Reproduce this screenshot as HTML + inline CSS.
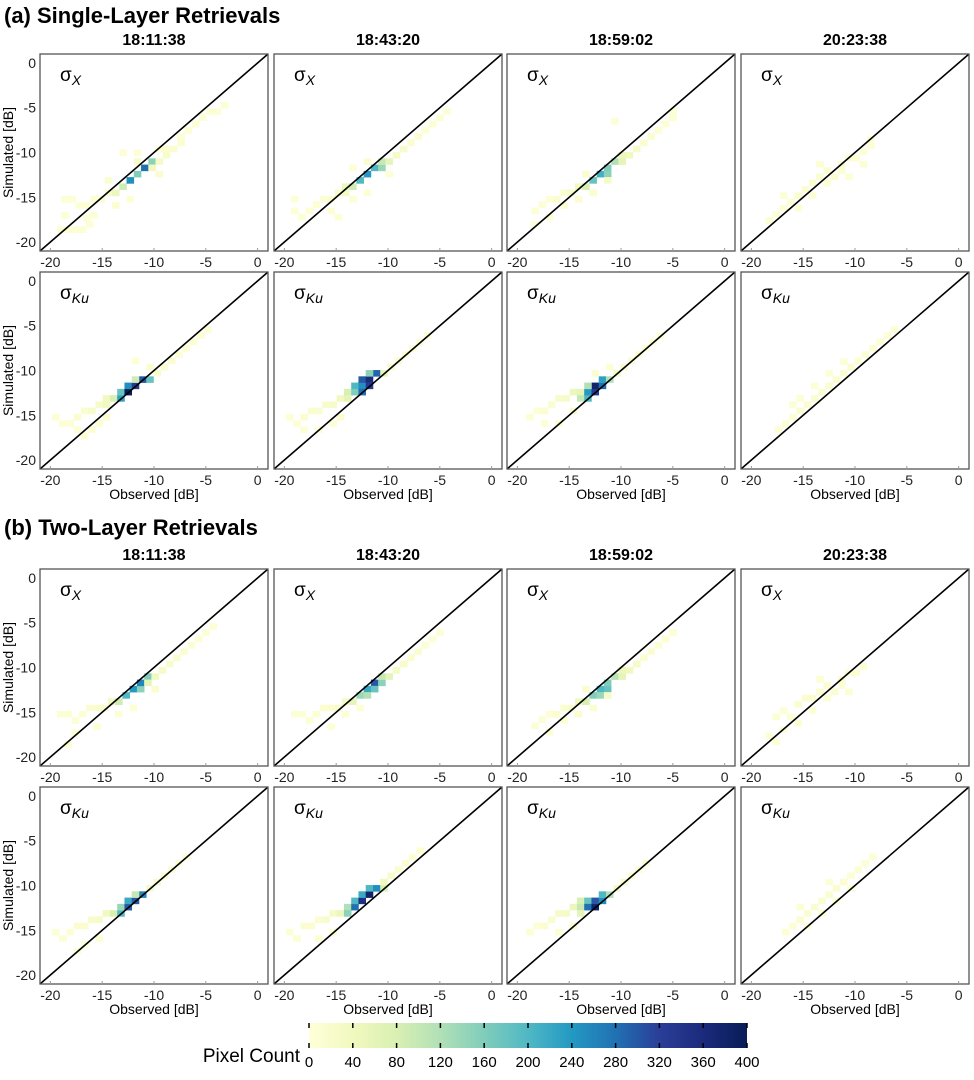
<!DOCTYPE html>
<html><head><meta charset="utf-8">
<style>
body{margin:0;background:#fff;font-family:"Liberation Sans",Arial,sans-serif;}
svg text{font-family:"Liberation Sans",Arial,sans-serif;}
</style></head>
<body>
<svg id="fig" width="974" height="1075" viewBox="0 0 974 1075" xmlns="http://www.w3.org/2000/svg">
<defs>
<linearGradient id="cb" x1="0" x2="1" y1="0" y2="0">
<stop offset="0" stop-color="#ffffd9"/><stop offset="0.1" stop-color="#f1f9bf"/><stop offset="0.2" stop-color="#d9f0b3"/>
<stop offset="0.3" stop-color="#b1e0b6"/><stop offset="0.4" stop-color="#80cdbb"/><stop offset="0.5" stop-color="#4fb8c4"/>
<stop offset="0.6" stop-color="#2399c3"/><stop offset="0.7" stop-color="#2171b2"/><stop offset="0.8" stop-color="#2a3e98"/>
<stop offset="0.9" stop-color="#1b2a7b"/><stop offset="1" stop-color="#081d58"/>
</linearGradient>
</defs>
<text x="4" y="23" font-size="22" font-weight="bold">(a) Single-Layer Retrievals</text>
<text x="4" y="535" font-size="22" font-weight="bold">(b) Two-Layer Retrievals</text>
<g id="panels"></g>
<g>
<text x="300" y="1062" font-size="19" text-anchor="end">Pixel Count</text>
<rect x="309" y="1023" width="438" height="25" fill="url(#cb)"/>
<g id="cbticks"></g>
</g>
</svg>
<script>
const NS="http://www.w3.org/2000/svg";
const times=["18:11:38","18:43:20","18:59:02","20:23:38"];
const axisTicks=[-20,-15,-10,-5,0];
const cbTicks=[0,40,80,120,160,200,240,280,320,360,400];
const colX=[40,274,507,741];
const rowY=[54,272,569,787];
const PW=228, PH=197;
const DMIN=-21, DMAX=1, BIN=0.7;

// cells: [observed dB, simulated dB, count]
const aX1=[[-19,-18.6,8],[-18.3,-18.6,8],[-17.6,-18.6,8],[-16.9,-18.6,8],[-16.2,-18,8],[-18.6,-17,8],[-18.6,-15.2,10],[-17.9,-15.2,10],[-17.2,-15.9,10],[-16.5,-15.9,10],[-15.8,-15.2,10],[-15.1,-15.2,12],[-15.8,-17,8],[-16.5,-17.3,8],[-14.4,-14.5,20],[-13.7,-14.5,50],[-13,-13.8,90],[-12.3,-13.1,250],[-11.6,-12.4,160],[-10.9,-11.7,280],[-10.2,-11,150],[-10.2,-11.7,40],[-9.5,-11,30],[-8.8,-10.3,20],[-8.1,-9.6,15],[-7.4,-8.9,12],[-7.4,-8.2,10],[-6.7,-7.5,10],[-6,-6.8,8],[-5.3,-6.1,8],[-4.6,-5.4,8],[-3.9,-5.4,8],[-3.2,-4.7,8],[-13,-10,6],[-11.6,-10,6],[-11.6,-11,20],[-14.4,-13.1,15],[-9.5,-12.4,12],[-12.3,-15.2,8],[-13.7,-15.9,12],[-9.5,-9.6,10],[-8.8,-9.6,12]];
const aX2=[[-19,-16.5,8],[-19,-15.2,8],[-18.3,-17.2,8],[-17.6,-16.5,8],[-16.9,-15.8,10],[-16.2,-15.2,10],[-15.5,-15.2,12],[-14.8,-14.5,20],[-14.1,-14.5,30],[-14.1,-13.8,50],[-13.4,-13.8,90],[-12.7,-13.1,200],[-12,-12.4,240],[-11.3,-11.7,200],[-10.6,-11.7,140],[-10.6,-11,100],[-9.9,-11,60],[-9.2,-10.3,30],[-8.5,-9.6,20],[-7.8,-8.9,15],[-7.1,-8.2,12],[-6.4,-7.5,10],[-5.7,-6.8,10],[-5,-6.1,8],[-4.3,-5.4,8],[-15.5,-16.5,8],[-14.8,-17.2,8],[-13.4,-15.2,10],[-12,-14.5,10],[-9.9,-12.4,10],[-13.4,-11.7,8],[-12,-11,15]];
const aX3=[[-18.3,-18,8],[-18.3,-16.5,8],[-17.6,-15.8,10],[-16.9,-15.2,10],[-16.2,-15.2,12],[-15.5,-14.5,15],[-14.8,-14.5,25],[-14.1,-13.8,40],[-13.4,-13.8,80],[-12.7,-13.1,180],[-12,-12.4,210],[-11.3,-12.4,150],[-11.3,-11.7,160],[-10.6,-11,120],[-9.9,-11,60],[-9.9,-10.3,50],[-9.2,-10.3,40],[-8.5,-9.6,25],[-7.8,-8.9,15],[-7.1,-8.2,12],[-6.4,-7.5,10],[-5.7,-6.8,8],[-5,-6.1,8],[-5,-5.4,8],[-10.6,-6.5,8],[-16.9,-17.2,8],[-15.5,-15.9,10],[-14.1,-15.2,12],[-12.7,-14.5,15],[-11.3,-13.1,30],[-13.4,-12.4,12]];
const aX4=[[-18.3,-17.6,8],[-17.6,-16.9,8],[-16.9,-16.2,10],[-16.2,-15.5,10],[-15.5,-14.8,12],[-14.8,-14.1,12],[-14.1,-13.4,15],[-13.4,-12.7,15],[-12.7,-12,15],[-12,-12.7,12],[-11.3,-11.3,12],[-10.6,-10.6,12],[-9.9,-10.6,10],[-9.2,-9.9,10],[-8.5,-9.2,8],[-8.5,-8.5,8],[-15.5,-16.2,8],[-14.1,-14.8,10],[-12.7,-13.4,10],[-11.3,-12,10],[-13.4,-11.3,8],[-16.9,-14.8,8],[-10.6,-12.7,8],[-9.2,-11.3,8]];
const aK1=[[-19.5,-15.2,8],[-18.8,-15.9,10],[-18.1,-15.9,10],[-17.4,-15.2,12],[-16.7,-14.5,15],[-17.4,-16.6,10],[-16,-16.6,8],[-16,-14.5,20],[-15.3,-13.8,25],[-14.6,-13.8,40],[-14.6,-13.1,40],[-13.9,-13.1,80],[-13.2,-13.1,230],[-13.2,-12.4,180],[-12.5,-12.4,400],[-12.5,-11.7,250],[-11.8,-11.7,330],[-11.1,-11,300],[-10.4,-11,180],[-11.8,-11,90],[-9.7,-10.3,20],[-9,-9.6,15],[-8.3,-8.9,12],[-7.6,-8.2,10],[-6.9,-7.5,10],[-6.2,-6.8,8],[-5.5,-6.1,8],[-4.8,-5.4,8],[-11.8,-8.9,8],[-10.4,-9.6,12],[-14.6,-15.2,12],[-15.3,-15.9,10],[-16.7,-17.3,8]];
const aK2=[[-19.5,-15.2,8],[-18.8,-15.9,10],[-18.1,-15.2,12],[-17.4,-14.5,15],[-16.7,-14.5,15],[-16,-13.8,20],[-15.3,-13.8,25],[-14.6,-13.1,40],[-13.9,-13.1,60],[-13.9,-12.4,80],[-13.2,-12.4,160],[-13.2,-11.7,200],[-12.5,-11.7,250],[-12.5,-12.4,280],[-12.5,-11,300],[-11.8,-11,360],[-11.8,-11.7,330],[-11.1,-10.3,290],[-11.8,-10.3,150],[-10.4,-10.3,60],[-9.7,-9.6,20],[-9,-8.9,15],[-8.3,-8.2,12],[-7.6,-7.5,10],[-6.9,-6.8,8],[-6.2,-6.1,8],[-18.1,-16.6,8],[-16.7,-16.6,8],[-15.3,-15.9,10],[-14.6,-15.2,12]];
const aK3=[[-18.8,-15.2,8],[-18.1,-14.5,10],[-17.4,-14.5,12],[-16.7,-13.8,15],[-16,-13.1,20],[-15.3,-13.1,25],[-14.6,-12.4,50],[-13.9,-12.4,60],[-13.9,-13.1,100],[-13.2,-13.1,200],[-13.2,-12.4,240],[-12.5,-12.4,330],[-12.5,-11.7,380],[-11.8,-11.7,280],[-11.8,-11,230],[-11.1,-11,120],[-13.2,-11.7,120],[-10.4,-10.3,30],[-9.7,-9.6,20],[-9,-8.9,15],[-8.3,-8.2,12],[-7.6,-7.5,10],[-6.9,-6.8,8],[-6.2,-6.1,8],[-17.4,-15.9,8],[-16,-15.9,10],[-14.6,-14.5,20],[-12.5,-10.3,15],[-11.1,-9.6,10]];
const aK4=[[-17.4,-16.6,8],[-16.7,-15.9,8],[-16,-15.2,10],[-15.3,-14.5,12],[-14.6,-13.8,12],[-13.9,-13.1,15],[-13.2,-12.4,15],[-12.5,-11.7,15],[-11.8,-11,15],[-11.1,-10.3,12],[-10.4,-9.6,12],[-9.7,-8.9,10],[-9,-8.2,10],[-8.3,-7.5,8],[-7.6,-6.8,8],[-6.9,-6.1,8],[-6.2,-5.4,8],[-15.3,-13.1,8],[-13.9,-11.7,8],[-12.5,-10.3,8],[-16,-13.8,8],[-11.1,-9,8]];
const bX1=[[-19,-15.2,8],[-18.3,-15.2,10],[-17.6,-15.9,10],[-16.9,-15.2,10],[-16.2,-14.5,12],[-15.5,-14.5,15],[-14.8,-14.5,20],[-14.1,-13.8,40],[-13.4,-13.8,90],[-12.7,-13.1,200],[-12,-12.4,240],[-11.3,-12.4,150],[-11.3,-11.7,260],[-10.6,-11,160],[-10.6,-11.7,60],[-9.9,-11,40],[-9.2,-10.3,25],[-8.5,-9.6,20],[-7.8,-8.9,15],[-7.1,-8.2,12],[-6.4,-7.5,10],[-5.7,-6.8,10],[-5,-6.1,8],[-4.3,-5.4,8],[-18.3,-18.6,8],[-17.6,-17.3,8],[-15.5,-16.6,8],[-13.4,-15.2,10],[-12,-14.5,10],[-9.9,-12.4,12]];
const bX2=[[-19,-15.2,8],[-18.3,-15.2,8],[-17.6,-15.9,8],[-16.9,-15.2,10],[-16.2,-14.5,12],[-15.5,-14.5,15],[-14.8,-14.5,20],[-14.1,-13.8,30],[-13.4,-13.8,60],[-12.7,-13.1,140],[-12,-12.4,220],[-12,-13.1,120],[-11.3,-11.7,300],[-11.3,-12.4,180],[-10.6,-11.7,150],[-10.6,-11,100],[-9.9,-11,60],[-9.2,-10.3,30],[-8.5,-9.6,20],[-7.8,-8.9,15],[-7.1,-8.2,12],[-6.4,-7.5,10],[-5.7,-6.8,8],[-5,-6.1,8],[-15.5,-16.6,8],[-14.1,-15.2,10],[-12.7,-14.5,10]];
const bX3=[[-18.3,-16.5,8],[-17.6,-15.8,10],[-16.9,-15.2,10],[-16.2,-15.2,12],[-15.5,-14.5,15],[-14.8,-14.5,20],[-14.1,-13.8,40],[-13.4,-13.8,80],[-12.7,-13.1,160],[-12,-12.4,200],[-12,-13.1,140],[-11.3,-12.4,180],[-11.3,-11.7,160],[-10.6,-11,110],[-9.9,-11,60],[-9.9,-10.3,50],[-9.2,-10.3,40],[-8.5,-9.6,25],[-7.8,-8.9,15],[-7.1,-8.2,12],[-6.4,-7.5,10],[-5.7,-6.8,8],[-5,-6.1,8],[-16.9,-17.2,8],[-15.5,-15.9,10],[-14.1,-15.2,12],[-12.7,-14.5,15],[-11.3,-13.1,30],[-13.4,-12.4,12]];
const bX4=[[-18.3,-17.6,8],[-17.6,-15.5,8],[-16.9,-14.8,10],[-16.2,-15.5,10],[-15.5,-14.1,12],[-14.8,-13.4,12],[-14.1,-13.4,15],[-13.4,-12.7,15],[-12.7,-12,12],[-12,-12.7,12],[-11.3,-11.3,12],[-10.6,-10.6,10],[-9.9,-10.6,10],[-9.2,-9.9,8],[-15.5,-16.2,8],[-14.1,-14.8,10],[-12.7,-13.4,10],[-11.3,-12,10],[-13.4,-11.3,8],[-16.9,-16.9,8],[-10.6,-12.7,8],[-17.6,-18.3,8]];
const bK1=[[-19.5,-15.2,8],[-18.8,-15.9,8],[-18.1,-15.2,10],[-17.4,-14.5,12],[-16.7,-14.5,15],[-16,-13.8,20],[-15.3,-13.8,25],[-14.6,-13.1,40],[-13.9,-13.1,80],[-13.2,-13.1,200],[-13.2,-12.4,140],[-12.5,-12.4,300],[-12.5,-11.7,220],[-11.8,-11.7,300],[-11.1,-11,260],[-11.8,-11,100],[-10.4,-10.3,30],[-9.7,-9.6,20],[-9,-8.9,15],[-8.3,-8.2,12],[-7.6,-7.5,10],[-6.9,-6.8,8],[-15.3,-15.9,10],[-16.7,-16.6,8],[-17.4,-17.3,8]];
const bK2=[[-19.5,-15.2,8],[-18.8,-15.9,8],[-18.1,-14.5,12],[-17.4,-14.5,12],[-16.7,-13.8,15],[-16,-13.8,20],[-15.3,-13.1,30],[-14.6,-13.1,50],[-13.9,-12.4,120],[-13.9,-13.1,150],[-13.2,-12.4,280],[-13.2,-11.7,200],[-12.5,-11.7,350],[-12.5,-11,220],[-11.8,-11,380],[-11.8,-10.3,200],[-11.1,-10.3,250],[-10.4,-10.3,80],[-10.4,-9.6,40],[-9.7,-8.9,20],[-9,-8.2,15],[-8.3,-7.5,12],[-7.6,-6.8,10],[-6.9,-6.1,8],[-16.7,-15.9,8],[-15.3,-15.2,10]];
const bK3=[[-18.8,-15.2,8],[-18.1,-14.5,10],[-17.4,-14.5,12],[-16.7,-13.8,15],[-16,-13.1,25],[-15.3,-13.1,30],[-14.6,-12.4,50],[-13.9,-12.4,100],[-13.9,-11.7,80],[-13.2,-11.7,180],[-13.2,-12.4,280],[-12.5,-12.4,380],[-12.5,-11.7,300],[-11.8,-11.7,250],[-11.8,-11,200],[-11.1,-11,120],[-13.9,-13.1,60],[-10.4,-10.3,30],[-9.7,-9.6,20],[-9,-8.9,15],[-8.3,-8.2,10],[-7.6,-7.5,8],[-16,-15.2,8],[-14.6,-14.5,15]];
const bK4=[[-16.7,-15.2,8],[-16,-14.5,10],[-15.3,-13.8,12],[-14.6,-13.1,12],[-13.9,-12.4,15],[-13.2,-11.7,15],[-12.5,-11,15],[-11.8,-10.3,12],[-11.1,-9.6,12],[-10.4,-8.9,10],[-9.7,-8.2,10],[-9,-7.5,8],[-8.3,-6.8,8],[-14.6,-14.5,10],[-13.2,-13.1,10],[-11.8,-11.7,10],[-10.4,-10.3,8],[-15.3,-12.4,8],[-12.5,-9.6,8]];

const panelData=[[aX1,aX2,aX3,aX4],[aK1,aK2,aK3,aK4],[bX1,bX2,bX3,bX4],[bK1,bK2,bK3,bK4]];
const rowBand=["X","Ku","X","Ku"];
const rowSet=["a","a","b","b"];

const stops=[[0,[255,255,217]],[40,[241,249,191]],[80,[217,240,179]],[120,[177,224,182]],[160,[128,205,187]],[200,[79,184,196]],[240,[35,153,195]],[280,[33,113,178]],[320,[42,62,152]],[360,[27,42,123]],[400,[8,29,88]]];
function cmap(v){
  if(v<=stops[0][0])return "rgb(250,252,205)";
  for(let i=1;i<stops.length;i++){
    if(v<=stops[i][0]){const a=stops[i-1],b=stops[i];const t=(v-a[0])/(b[0]-a[0]);
      const c=a[1].map((x,k)=>Math.round(x+(b[1][k]-x)*t));return `rgb(${c[0]},${c[1]},${c[2]})`;}
  }
  return "rgb(8,29,88)";
}
function mk(tag,attrs,parent){const e=document.createElementNS(NS,tag);for(const k in attrs)e.setAttribute(k,attrs[k]);parent.appendChild(e);return e;}
const root=document.getElementById("panels");
for(let r=0;r<4;r++){
  for(let c=0;c<4;c++){
    const x0=colX[c], y0=rowY[r];
    const sx=v=>x0+(v-DMIN)/(DMAX-DMIN)*PW;
    const sy=v=>y0+PH-(v-DMIN)/(DMAX-DMIN)*PH;
    const g=mk("g",{},root);
    
    
    if(r===0||r===2){
      const t=mk("text",{x:x0+PW/2,y:y0-9,"font-size":16,"font-weight":"bold","text-anchor":"middle"},g);
      t.textContent=times[c];
      
      
    }
    for(const d of panelData[r][c]){
      const cw=BIN/(DMAX-DMIN)*PW, ch=BIN/(DMAX-DMIN)*PH;
      const rc=mk("rect",{x:sx(d[0])-cw/2,y:sy(d[1])-ch/2,width:cw+0.3,height:ch+0.3,fill:cmap(d[2])},g);
      
      
    }
    const ln=mk("line",{x1:sx(DMIN),y1:sy(DMIN),x2:sx(DMAX),y2:sy(DMAX),stroke:"#000","stroke-width":1.6},g);
    
    
    const fr=mk("rect",{x:x0,y:y0,width:PW,height:PH,fill:"none",stroke:"#555","stroke-width":1.3},g);
    
    
    const lb=mk("text",{x:x0+20,y:y0+27,"font-size":19},g);
    lb.innerHTML='σ<tspan font-size="14" font-style="italic" dy="4">'+rowBand[r]+'</tspan>';
    
    
    for(const tv of axisTicks){
      const tx=mk("text",{x:sx(tv),y:y0+PH+16,"font-size":14,"text-anchor":"middle",fill:"#222"},g);
      tx.textContent=tv;
      
      
      mk("line",{x1:sx(tv),y1:y0+PH,x2:sx(tv),y2:y0+PH-3,stroke:"#999"},g);
      if(c===0){
        const ty=mk("text",{x:x0-4,y:sy(tv)+5,"font-size":14,"text-anchor":"end",fill:"#222"},g);
        ty.textContent=tv;
        
        
      }
    }
    if(c===0){
      const yt=mk("text",{x:0,y:0,"font-size":14,"text-anchor":"middle",transform:`translate(13,${y0+PH/2}) rotate(-90)`},g);
      yt.textContent="Simulated [dB]";
      
      
    }
    if(r===1||r===3){
      const xt=mk("text",{x:x0+PW/2,y:y0+PH+30,"font-size":14,"text-anchor":"middle"},g);
      xt.textContent="Observed [dB]";
      
      
    }
  }
}
const cbg=document.getElementById("cbticks");
for(const v of cbTicks){
  const x=309+v/400*438;
  const t1=mk("line",{x1:x,y1:1023,x2:x,y2:1028,stroke:"#000","stroke-width":1.5},cbg);
  
  
  mk("line",{x1:x,y1:1043,x2:x,y2:1048,stroke:"#000","stroke-width":1.5},cbg);
  const t=mk("text",{x:x,y:1067,"font-size":15,"text-anchor":"middle"},cbg);
  t.textContent=v;
  
  
}
</script>
</body></html>
